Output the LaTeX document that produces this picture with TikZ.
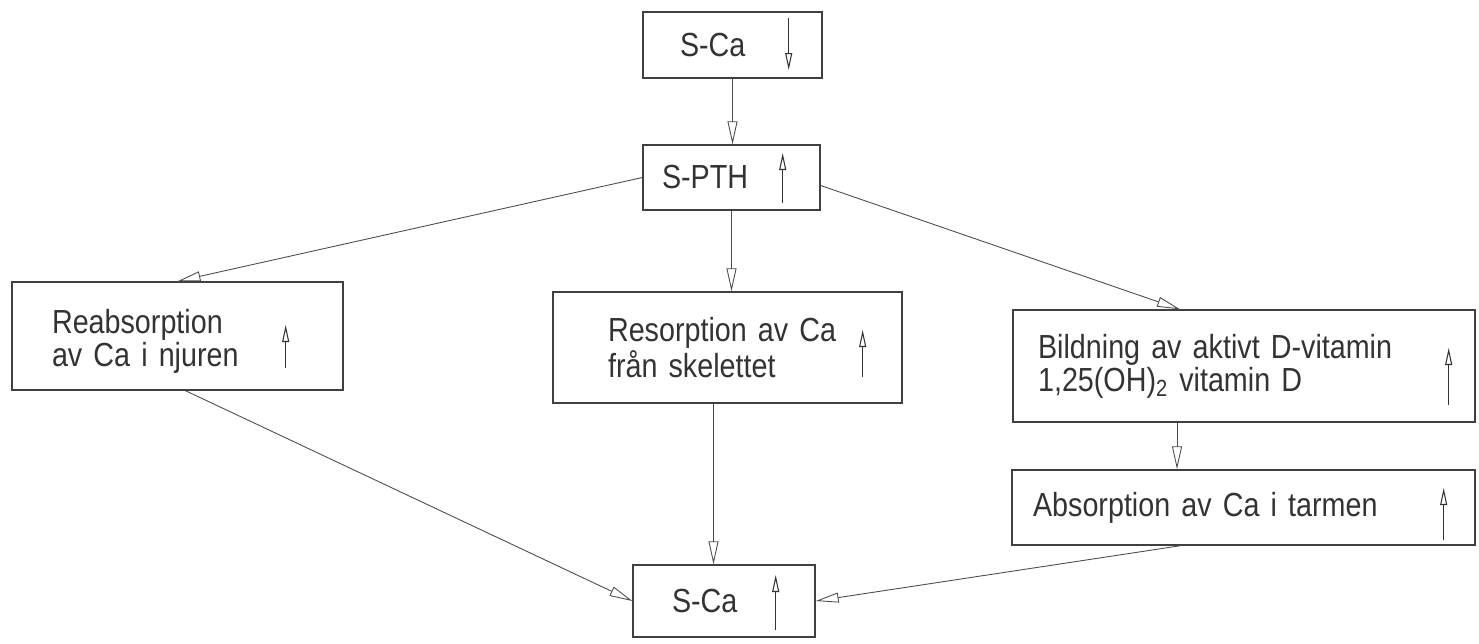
\documentclass[tikz,border=0pt]{standalone}
\usepackage{fontspec}
\setmainfont{Liberation Sans}[FakeStretch=0.86]
\usetikzlibrary{arrows.meta}
\tikzset{
  box/.style={draw=black!75, line width=0.8pt, rectangle, align=left, inner ysep=0pt,
    font=\fontsize{19}{17}\selectfont, text=black!80},
  drop/.style={execute at begin node={\rule{0pt}{#1}}},
  link/.style={->, draw=black!70, line width=0.5pt},
  trend/.style={-{Triangle[open,length=3.4mm,width=1.4mm]}, draw=black!80, line width=0.6pt}
}

\begin{document}
\begin{tikzpicture}[x=0.02cm, y=-0.02cm, >={Triangle[open,length=4.6mm,width=2mm]}]
    \useasboundingbox (0,0) rectangle (1479,643);

    \node[box, minimum width=3.58cm, minimum height=1.32cm, text width=2.1cm, inner xsep=0.74cm] (top) at (732.5,45) {S-Ca};
    \node[box, minimum width=3.54cm, minimum height=1.30cm, text width=2.78cm, inner xsep=0.38cm] (pth) at (731.5,177.5) {S-PTH};
    \node[box, drop=20pt, minimum width=6.62cm, minimum height=2.16cm, text width=5.02cm, inner xsep=0.8cm] (reab) at (177.5,336) {Reabsorption\\av Ca i njuren};
    \node[box, minimum width=6.98cm, minimum height=2.22cm, text width=4.78cm, inner xsep=1.1cm] (reso) at (727.5,347.5) {Resorption av Ca\\från skelettet};
    \node[box, minimum width=9.24cm, minimum height=2.24cm, text width=8.24cm, inner xsep=0.5cm] (bild) at (1244,366) {Bildning av aktivt D-vitamin\\1,25(OH)\textsubscript{2} vitamin D};
    \node[box, minimum width=9.26cm, minimum height=1.50cm, text width=8.42cm, inner xsep=0.42cm] (abso) at (1243.5,507.5) {Absorption av Ca i tarmen};
    \node[box, minimum width=3.64cm, minimum height=1.44cm, text width=2.08cm, inner xsep=0.78cm] (bot) at (724,601) {S-Ca};

    \draw[trend] ([shift={(-34,-27)}]top.east) -- ([shift={(-34,25)}]top.east);
    \draw[trend] ([shift={(-38,25.5)}]pth.east) -- ([shift={(-38,-24.5)}]pth.east);
    \draw[trend] ([shift={(-58,32)}]reab.east) -- ([shift={(-58,-11)}]reab.east);
    \draw[trend] ([shift={(-40,29.5)}]reso.east) -- ([shift={(-40,-17.5)}]reso.east);
    \draw[trend] ([shift={(-27,39)}]bild.east) -- ([shift={(-27,-18)}]bild.east);
    \draw[trend] ([shift={(-32,32.5)}]abso.east) -- ([shift={(-32,-19.5)}]abso.east);
    \draw[trend] ([shift={(-40,29)}]bot.east) -- ([shift={(-40,-26)}]bot.east);

    \draw[link] (top.south) -- (top.south |- pth.north);
    \draw[link] (pth.west) -- (reab.north);
    \draw[link] (pth.south) -- (pth.south |- reso.north);
    \draw[link] ([shift={(0,8)}]pth.east) -- ([shift={(-64,0)}]bild.north);
    \draw[link] ([shift={(8,0)}]reab.south) -- (bot.west);
    \draw[link] ([shift={(-14,0)}]reso.south) -- ([shift={(-14,0)}]reso.south |- bot.north);
    \draw[link] ([shift={(-67,0)}]bild.south) -- ([shift={(-67,0)}]bild.south |- abso.north);
    \draw[link] ([shift={(-63,0)}]abso.south) -- (bot.east);
\end{tikzpicture}
\end{document}
